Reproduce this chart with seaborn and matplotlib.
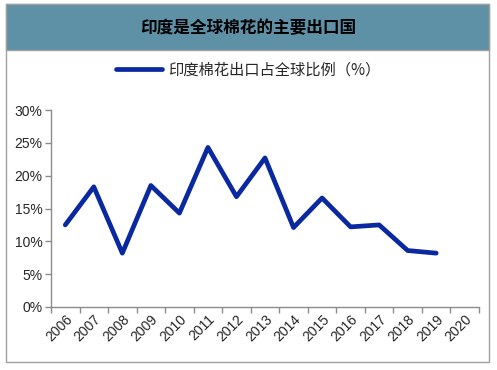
import matplotlib
matplotlib.use("Agg")
import matplotlib.pyplot as plt
import matplotlib.patches as mpatches
import seaborn as sns
import numpy as np
import pandas as pd

years = ["2006", "2007", "2008", "2009", "2010", "2011", "2012", "2013",
         "2014", "2015", "2016", "2017", "2018", "2019", "2020"]
share = [12.5, 18.3, 8.2, 18.5, 14.3, 24.3, 16.8, 22.7,
         12.1, 16.6, 12.2, 12.5, 8.6, 8.2, np.nan]
series_name = "印度棉花出口占全球比例（%）"
title = "印度是全球棉花的主要出口国"
y_ticks = [0, 5, 10, 15, 20, 25, 30]

sns.set_theme(style="white")
plt.rcParams['font.family'] = ['Liberation Sans', 'Noto Sans CJK SC', 'DejaVu Sans']

df = pd.DataFrame({"pos": np.arange(len(years)), "year": years, "share": share})

fig = plt.figure(figsize=(4.97, 3.70), dpi=100)
ax = fig.add_axes([51/497, 1-307/370, (479-51)/497, (307-110)/370])

sns.lineplot(data=df, x="pos", y="share", ax=ax, color="#0A29A0", linewidth=3.4,
             label=series_name, legend=False)

ax.set_xlim(-0.5, len(years)-0.5)
ax.set_ylim(0, 30)
ax.set_yticks(y_ticks)
ax.set_yticklabels([f"{v}%" for v in y_ticks], fontsize=10, family=['Liberation Sans'])
ax.set_xticks(np.arange(len(years)+1)-0.5)
ax.set_xticklabels([])
ax.set_xticks(np.arange(len(years)), minor=True)
ax.set_xticklabels(years, minor=True, rotation=45, ha="right", va="top",
                   rotation_mode="anchor", fontsize=10, family=['Liberation Sans'])
ax.tick_params(axis="x", which="major", bottom=True, length=4, width=1, color="#8c8c8c")
ax.tick_params(axis="x", which="minor", bottom=False, length=0, pad=4)
ax.tick_params(axis="y", left=True, length=4, width=1, color="#8c8c8c", pad=2)
ax.set_xlabel("")
ax.set_ylabel("")
for s in ["top", "right"]:
    ax.spines[s].set_visible(False)
for s in ["left", "bottom"]:
    ax.spines[s].set_color("#8c8c8c")
    ax.spines[s].set_linewidth(1)

# outer frame and title band
W, H = 497, 370
frame = mpatches.Rectangle((6/W, 1-362/H), (489-6)/W, (362-4)/H, transform=fig.transFigure,
                           facecolor="none", edgecolor="#a0a0a0", linewidth=1, zorder=0)
band = mpatches.Rectangle((6/W, 1-50/H), (489-6)/W, (50-4)/H, transform=fig.transFigure,
                          facecolor="#5E90A6", edgecolor="#a0a0a0", linewidth=1, zorder=1)
fig.patches.extend([frame, band])
fig.text(248/W, 1-28/H, title, ha="center", va="center", fontsize=12, fontweight="bold",
         color="black", family=['Noto Sans CJK SC', 'DejaVu Sans'])

handles, labels = ax.get_legend_handles_labels()
leg = fig.legend(handles, labels, loc="center", bbox_to_anchor=(248/W, 1-70/H), frameon=False,
                 handlelength=3.0, handletextpad=0.4,
                 prop={"family": ['Noto Sans CJK SC', 'DejaVu Sans'], "size": 11})

fig.savefig("out.png", dpi=100)
